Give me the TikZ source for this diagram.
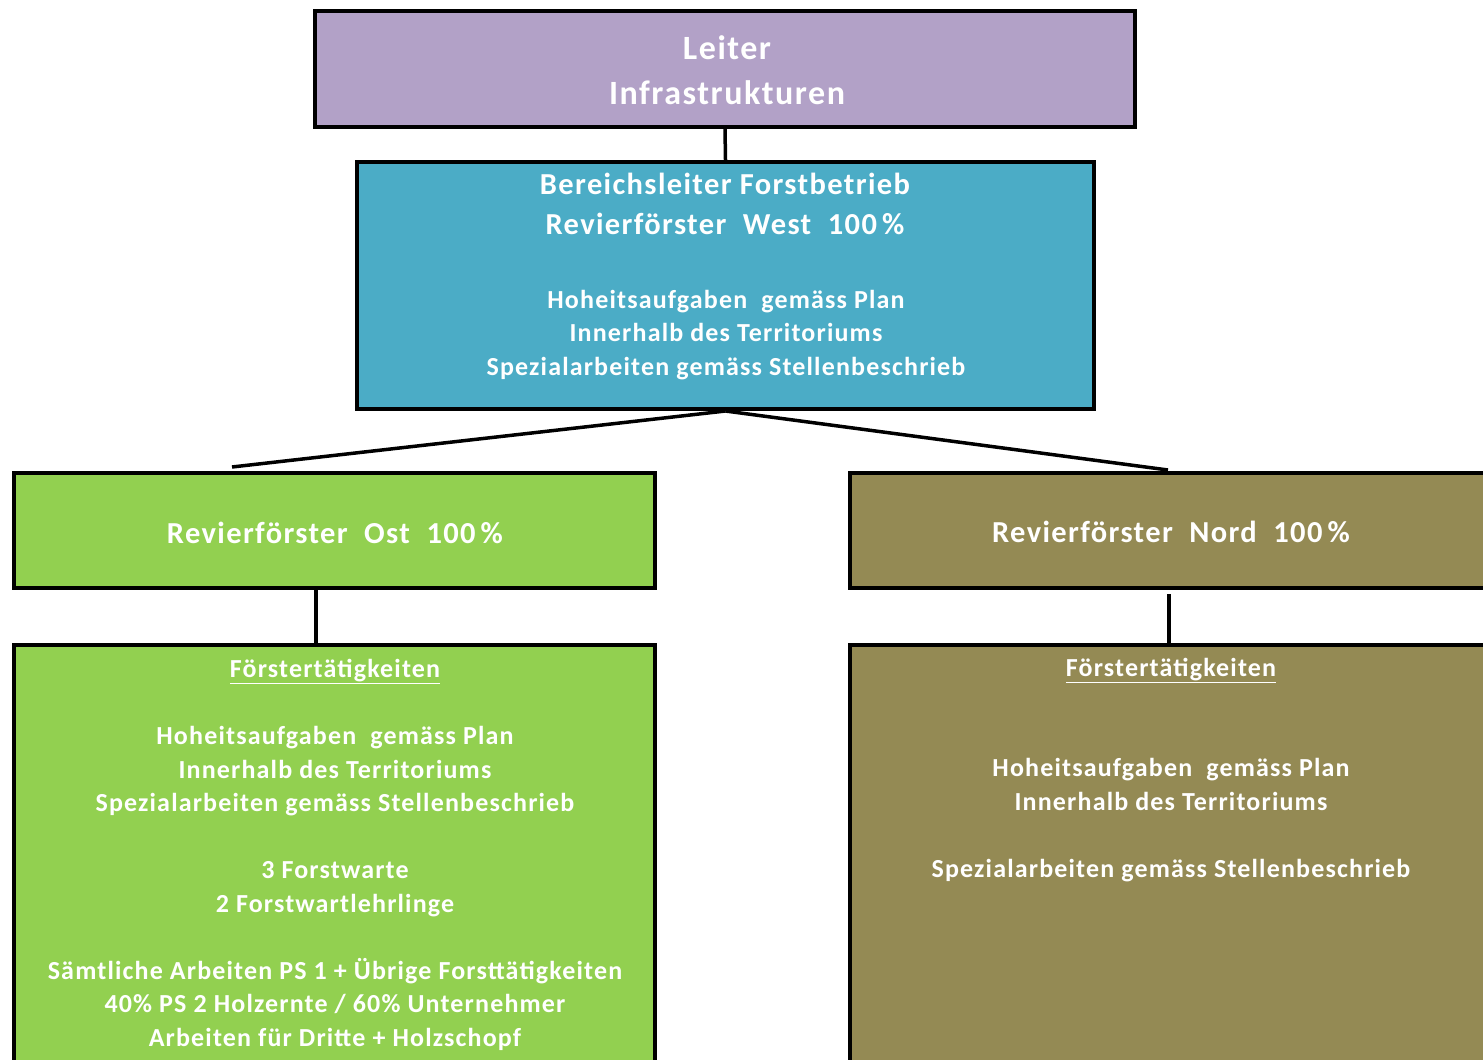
\documentclass[tikz,border=0pt]{standalone}
\usepackage{fontspec}
\setmainfont{Carlito}[LetterSpace=4.5]
\definecolor{leiterlila}{HTML}{B2A1C7}
\definecolor{westblau}{HTML}{4BACC6}
\definecolor{ostgruen}{HTML}{92D050}
\definecolor{nordoliv}{HTML}{948A54}

\begin{document}
\begin{tikzpicture}[x=1pt,y=-1pt,
 box/.style={draw=black,line width=4pt,inner sep=0pt},
 boxtext/.style={text=white,align=center,inner sep=0pt,
 font=\bfseries\fontsize{26}{33.5}\selectfont},
 headtext/.style={boxtext,font=\bfseries\fontsize{30.5}{40}\selectfont},
 link/.style={line width=3.5pt}]
 \useasboundingbox (0,0) rectangle (1483,1060);
 \clip (0,0) rectangle (1483,1060);
 % boxes
 \node[box,fill=leiterlila,minimum width=820pt,minimum height=116pt] (leiter) at (725,69) {};
 \node[box,fill=westblau,minimum width=737pt,minimum height=247pt] (west) at (725.5,285.5) {};
 \node[box,fill=ostgruen,minimum width=641pt,minimum height=115pt] (ost) at (334.5,530.5) {};
 \node[box,fill=nordoliv,minimum width=643pt,minimum height=115pt] (nord) at (1171.5,530.5) {};
 \node[box,fill=ostgruen,minimum width=641pt,minimum height=457pt,anchor=north] (ostaufg) at (334.5,643) {};
 \node[box,fill=nordoliv,minimum width=643pt,minimum height=457pt,anchor=north] (nordaufg) at (1171.5,643) {};
 % texts
 \node[headtext,font=\bfseries\fontsize{34}{45}\selectfont] (leitertxt) at (727,70) {Leiter\\Infrastrukturen};
 \node[headtext] (westkopf) at (725,204) {Bereichsleiter Forstbetrieb\\Revierförster\ \ West\ \ 100\,\%};
 \node[boxtext] (westtxt) at (726,335) {Hoheitsaufgaben\ \ gemäss Plan\\Innerhalb des Territoriums\\Spezialarbeiten gemäss Stellenbeschrieb};
 \node[headtext] (osttxt) at (335,533) {Revierförster\ \ Ost\ \ 100\,\%};
 \node[headtext] (nordtxt) at (1171,532) {Revierförster\ \ Nord\ \ 100\,\%};
 \node[boxtext] (ostaufgtxt) at (335,855) {\underline{Förstertätigkeiten}\\[33.5pt]
 Hoheitsaufgaben\ \ gemäss Plan\\Innerhalb des Territoriums\\Spezialarbeiten gemäss Stellenbeschrieb\\[33.5pt]
 3 Forstwarte\\2 Forstwartlehrlinge\\[33.5pt]
 Sämtliche\ Arbeiten PS 1 + Übrige Forsttätigkeiten\\40\% PS 2 Holzernte / 60\% Unternehmer\\Arbeiten für Dritte + Holzschopf};
 \node[boxtext] (nordaufgtxt) at (1171,770) {\underline{Förstertätigkeiten}\\[67pt]
 Hoheitsaufgaben\ \ gemäss Plan\\Innerhalb des Territoriums\\[33.5pt]
 Spezialarbeiten gemäss Stellenbeschrieb};
 % connectors
 \coordinate (ostan) at (232,467);
 \coordinate (nordan) at (1168,470);
 \draw[link] (leiter.south) -- (west.north);
 \draw[link] (west.south) -- (ostan);
 \draw[link] (west.south) -- (nordan);
 \draw[link] (ost.south -| 316,0) -- (ostaufg.north -| 316,0);
 \draw[link] (1169,594) -- (nordaufg.north -| 1169,0);
\end{tikzpicture}
\end{document}
